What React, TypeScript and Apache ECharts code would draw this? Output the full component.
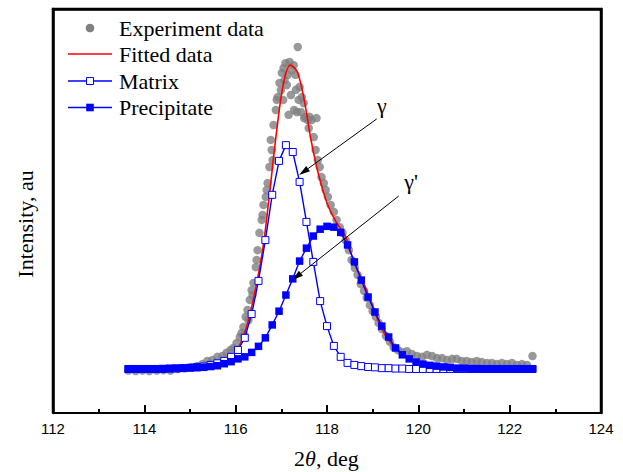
import React, { useEffect, useRef } from "react";
import * as echarts from "echarts";

// 2θ grid of the fitted components (deg)
const twoTheta = [
  113.65, 113.8, 113.95, 114.1, 114.25, 114.4, 114.55, 114.7, 114.85, 115.0,
  115.15, 115.3, 115.45, 115.6, 115.75, 115.9, 116.05, 116.2, 116.35, 116.5,
  116.65, 116.8, 116.95, 117.1, 117.25, 117.4, 117.55, 117.7, 117.85, 118.0,
  118.15, 118.3, 118.45, 118.6, 118.75, 118.9, 119.05, 119.2, 119.35, 119.5,
  119.65, 119.8, 119.95, 120.1, 120.25, 120.4, 120.55, 120.7, 120.85, 121.0,
  121.15, 121.3, 121.45, 121.6, 121.75, 121.9, 122.05, 122.2, 122.35, 122.5,
];

const matrix = [
  10.9, 10.9, 10.9, 10.9, 10.9, 10.9, 11.0, 11.0, 11.1, 11.2,
  11.4, 11.5, 11.9, 12.3, 12.9, 13.9, 15.6, 18.6, 24.5, 32.7,
  42.8, 54.0, 62.4, 66.3, 64.6, 57.2, 47.3, 37.4, 27.7, 21.5,
  16.6, 13.9, 12.4, 11.9, 11.6, 11.4, 11.3, 11.1, 11.1, 11.0,
  11.0, 10.9, 10.9, 10.9, 10.9, 10.9, 10.9, 10.9, 10.9, 10.9,
  10.9, 10.9, 10.9, 10.9, 10.9, 10.9, 10.9, 10.9, 10.9, 10.9,
];

const precipitate = [
  10.9, 10.9, 10.9, 10.9, 10.9, 11.0, 11.0, 11.1, 11.1, 11.2,
  11.2, 11.3, 11.5, 11.7, 12.2, 12.7, 13.4, 13.9, 15.0, 16.5,
  18.6, 21.8, 25.2, 29.2, 33.2, 37.6, 40.8, 43.8, 45.5, 46.2,
  46.0, 44.7, 41.6, 37.4, 32.9, 28.7, 25.0, 21.5, 18.8, 16.1,
  14.4, 13.4, 12.6, 12.1, 11.8, 11.6, 11.4, 11.3, 11.1, 11.1,
  11.0, 11.0, 10.9, 10.9, 10.9, 10.9, 10.9, 10.9, 10.9, 10.9,
];

const fitX = [
  113.65, 114.5, 115.0, 115.5, 115.8, 116.0, 116.2, 116.4, 116.6, 116.75,
  116.9, 117.05, 117.2, 117.35, 117.5, 117.65, 117.8, 118.0, 118.2, 118.4,
  118.6, 118.8, 119.0, 119.2, 119.4, 119.6, 119.8, 120.0, 120.3, 120.6,
  121.0, 121.5, 122.0, 122.5,
];
const fitY = [
  10.9, 11.0, 11.3, 11.9, 12.9, 15.0, 19.9, 28.8, 41.1, 55.2,
  70.0, 81.7, 86.1, 84.4, 77.5, 67.6, 59.7, 52.0, 47.3, 43.8,
  37.1, 32.2, 26.5, 20.8, 17.3, 15.1, 13.7, 12.7, 12.0, 11.5,
  11.2, 11.0, 10.9, 10.9,
];

const expX = [
  113.65, 113.81, 113.96, 114.11, 114.27, 114.42, 114.57, 114.73, 114.88, 115.03,
  115.16, 115.27, 115.38, 115.49, 115.6, 115.71, 115.8, 115.89, 115.95, 116.02,
  116.09, 116.13, 116.17, 116.19, 116.22, 116.26, 116.28, 116.31, 116.35, 116.37,
  116.39, 116.44, 116.46, 116.48, 116.52, 116.57, 116.59, 116.61, 116.66, 116.68,
  116.7, 116.74, 116.77, 116.79, 116.81, 116.83, 116.88, 116.9, 116.92, 116.96,
  116.99, 117.01, 117.04, 117.05, 117.07, 117.09, 117.12, 117.14, 117.16, 117.18,
  117.21, 117.23, 117.27, 117.28, 117.31, 117.32, 117.34, 117.36, 117.38, 117.4,
  117.43, 117.45, 117.49, 117.5, 117.53, 117.58, 117.6, 117.62, 117.66, 117.71,
  117.75, 117.77, 117.8, 117.84, 117.88, 117.93, 117.97, 118.02, 118.08, 118.15,
  118.21, 118.28, 118.34, 118.41, 118.48, 118.54, 118.61, 118.67, 118.74, 118.81,
  118.87, 118.94, 119.0, 119.07, 119.13, 119.2, 119.29, 119.38, 119.46, 119.55,
  119.64, 119.75, 119.86, 119.97, 120.08, 120.19, 120.3, 120.41, 120.52, 120.63,
  120.74, 120.84, 120.95, 121.06, 121.17, 121.28, 121.39, 121.5, 121.61, 121.72,
  121.83, 121.94, 122.05, 122.16, 122.27, 122.38, 122.5,
];
const expY = [
  10.5, 10.4, 10.5, 10.4, 10.5, 10.6, 10.5, 10.9, 11.1, 11.4,
  11.6, 12.1, 12.9, 13.1, 13.9, 14.1, 14.9, 15.6, 16.1, 17.3,
  18.8, 19.8, 21.3, 19.3, 23.8, 25.5, 23.0, 28.0, 30.4, 29.2,
  32.2, 36.1, 37.9, 40.3, 44.6, 47.8, 49.0, 51.5, 53.5, 55.2,
  56.9, 60.9, 67.6, 65.1, 62.6, 71.3, 75.0, 77.5, 78.2, 81.7,
  79.9, 84.2, 77.5, 85.4, 82.4, 86.6, 81.2, 83.7, 73.8, 86.9,
  78.7, 84.9, 86.1, 75.0, 83.7, 80.0, 74.5, 90.6, 77.5, 80.7,
  74.5, 78.2, 76.7, 73.0, 73.3, 72.5, 70.5, 73.3, 72.5, 68.3,
  65.1, 73.0, 62.6, 60.9, 58.4, 56.9, 55.2, 53.5, 51.5, 49.8,
  47.8, 46.0, 44.6, 42.8, 40.3, 37.9, 35.9, 34.2, 31.9, 30.2,
  28.5, 26.7, 25.2, 23.8, 22.3, 20.8, 19.1, 17.6, 16.3, 15.6,
  15.1, 15.3, 14.6, 14.1, 13.9, 14.4, 14.1, 13.6, 13.6, 13.1,
  13.4, 13.4, 12.9, 12.9, 12.6, 12.9, 12.6, 12.4, 12.4, 12.1,
  12.4, 12.1, 12.4, 11.9, 12.1, 11.9, 14.1,
];

// axis ranges
const xMin = 112;
const xMax = 124;
const xStep = 2;
const yMin = 0;
const yMax = 100;

// annotation arrows: [start, tip] in data units, and their labels
const arrowGamma = [[119.09, 72.8], [117.39, 58.9]];
const arrowGammaPrime = [[119.57, 53.7], [117.24, 32.9]];
const labelGamma = [119.2, 76.0];
const labelGammaPrime = [119.84, 57.2];

const SERIF = '"Liberation Serif", "Times New Roman", serif';
const SANS = '"Liberation Sans", Arial, sans-serif';
const BLUE = "#0000ff";
const RED = "#ff0000";
const GRAY = "#808080";

const serifText = (text: string, x: number, y: number, align = "left", extra: any = {}) => ({
  type: "text",
  x,
  y,
  ...extra,
  style: {
    text,
    fill: "#000",
    font: `22px ${SERIF}`,
    fontFamily: SERIF,
    fontSize: 22,
    align,
    verticalAlign: "middle",
    textAlign: align,
    textVerticalAlign: "middle",
  },
});

export default function App() {
  const ref = useRef<HTMLDivElement>(null);
  useEffect(() => {
    const chart = echarts.init(ref.current!, null, { renderer: "svg" });
    const staticGraphics: any[] = [
      { type: "circle", shape: { cx: 90, cy: 28, r: 4.3 }, style: { fill: GRAY } },
      serifText("Experiment data", 119, 28),
      { type: "line", shape: { x1: 68, y1: 54, x2: 112, y2: 54 }, style: { stroke: RED, lineWidth: 1.6 } },
      serifText("Fitted data", 119, 54.5),
      { type: "line", shape: { x1: 68, y1: 81, x2: 112, y2: 81 }, style: { stroke: BLUE, lineWidth: 1.4 } },
      { type: "rect", shape: { x: 86.5, y: 77.5, width: 7, height: 7 }, style: { fill: "#fff", stroke: BLUE, lineWidth: 1 } },
      serifText("Matrix", 119, 81),
      { type: "line", shape: { x1: 68, y1: 107.5, x2: 112, y2: 107.5 }, style: { stroke: BLUE, lineWidth: 1.4 } },
      { type: "rect", shape: { x: 86.2, y: 103.7, width: 7.6, height: 7.6 }, style: { fill: BLUE } },
      serifText("Precipitate", 119, 107.5),
      serifText("Intensity, au", 25, 224, "center", { rotation: Math.PI / 2 }),
      {
        type: "text",
        x: 326.4,
        y: 458,
        style: {
          text: "{a|2}{b|θ}{a|, deg}",
          fill: "#000",
          align: "center",
          verticalAlign: "middle",
          textAlign: "center",
          textVerticalAlign: "middle",
          rich: {
            a: { fontFamily: SERIF, fontSize: 22, color: "#000" },
            b: { fontFamily: SERIF, fontSize: 22, fontStyle: "italic", color: "#000" },
          },
        },
      },
    ];
    const frameAxisLine = { show: true, onZero: false, lineStyle: { color: "#000", width: 2.5 } };
    const option: any = {
      animation: false,
      grid: { left: 53, right: 22, top: 9, bottom: 59, containLabel: false },
      xAxis: [
        {
          type: "value",
          min: xMin,
          max: xMax,
          interval: xStep,
          position: "bottom",
          axisLine: { show: true, onZero: false, lineStyle: { color: "#000", width: 2 } },
          axisTick: { show: true, inside: true, length: 8, lineStyle: { color: "#000", width: 2 } },
          minorTick: { show: true, splitNumber: 2, length: 4, lineStyle: { color: "#000", width: 2 } },
          axisLabel: { color: "#000", fontFamily: SANS, fontSize: 15, margin: 8 },
          splitLine: { show: false },
          minorSplitLine: { show: false },
        },
        {
          type: "value",
          min: xMin,
          max: xMax,
          interval: xStep,
          position: "top",
          axisLine: { ...frameAxisLine },
          axisTick: { show: false },
          axisLabel: { show: false },
          splitLine: { show: false },
        },
      ],
      yAxis: [
        {
          type: "value",
          min: yMin,
          max: yMax,
          position: "left",
          axisLine: { ...frameAxisLine },
          axisTick: { show: false },
          axisLabel: { show: false },
          splitLine: { show: false },
        },
        {
          type: "value",
          min: yMin,
          max: yMax,
          position: "right",
          axisLine: { ...frameAxisLine },
          axisTick: { show: false },
          axisLabel: { show: false },
          splitLine: { show: false },
        },
      ],
      series: [
        {
          name: "Experiment data",
          type: "scatter",
          symbol: "circle",
          symbolSize: 8.5,
          itemStyle: { color: GRAY },
          data: expX.map((x, i) => [x, expY[i]]),
          z: 1,
        },
        {
          name: "Fitted data",
          type: "line",
          smooth: 0.35,
          showSymbol: false,
          lineStyle: { color: RED, width: 1.6 },
          itemStyle: { color: RED },
          data: fitX.map((x, i) => [x, fitY[i]]),
          z: 2,
        },
        {
          name: "Matrix",
          type: "line",
          symbol: "rect",
          symbolSize: 7,
          showSymbol: true,
          lineStyle: { color: BLUE, width: 1.4 },
          itemStyle: { color: "#ffffff", borderColor: BLUE, borderWidth: 1 },
          data: twoTheta.map((x, i) => [x, matrix[i]]),
          z: 3,
        },
        {
          name: "Precipitate",
          type: "line",
          symbol: "rect",
          symbolSize: 7.5,
          showSymbol: true,
          lineStyle: { color: BLUE, width: 1.4 },
          itemStyle: { color: BLUE },
          data: twoTheta.map((x, i) => [x, precipitate[i]]),
          z: 4,
        },
      ],
      graphic: staticGraphics,
    };
    chart.setOption(option);

    const toPx = (c: number[]) => chart.convertToPixel({ xAxisIndex: 0, yAxisIndex: 0 }, c) as number[];
    const arrow = (pair: number[][]) => {
      const a = toPx(pair[0]);
      const b = toPx(pair[1]);
      const dx = b[0] - a[0];
      const dy = b[1] - a[1];
      const len = Math.hypot(dx, dy);
      const ux = dx / len;
      const uy = dy / len;
      const headLen = 11;
      const headHalf = 3.2;
      const bx = b[0] - ux * headLen;
      const by = b[1] - uy * headLen;
      return [
        { type: "line", z: 50, shape: { x1: a[0], y1: a[1], x2: bx, y2: by }, style: { stroke: "#000", lineWidth: 1 } },
        {
          type: "polygon",
          z: 50,
          shape: {
            points: [
              [b[0], b[1]],
              [bx - uy * headHalf, by + ux * headHalf],
              [bx + uy * headHalf, by - ux * headHalf],
            ],
          },
          style: { fill: "#000" },
        },
      ];
    };
    const tl = toPx([xMin, yMax]);
    const br = toPx([xMax, yMin]);
    const frame = [
      {
        type: "polyline",
        z: 60,
        shape: { points: [[tl[0], br[1]], [tl[0], tl[1]], [br[0], tl[1]], [br[0], br[1]]] },
        style: { stroke: "#000", lineWidth: 2.5, fill: "none" },
      },
    ];
    const g = toPx(labelGamma);
    const gp = toPx(labelGammaPrime);
    chart.setOption({
      graphic: [
        ...staticGraphics,
        ...frame,
        ...arrow(arrowGamma),
        ...arrow(arrowGammaPrime),
        serifText("γ", g[0], g[1], "center"),
        serifText("γ'", gp[0], gp[1], "center"),
      ],
    });
    return () => chart.dispose();
  }, []);
  return (
    <div
      ref={ref}
      style={{ position: "absolute", left: 0, top: 0, width: 623, height: 472 }}
    />
  );
}
